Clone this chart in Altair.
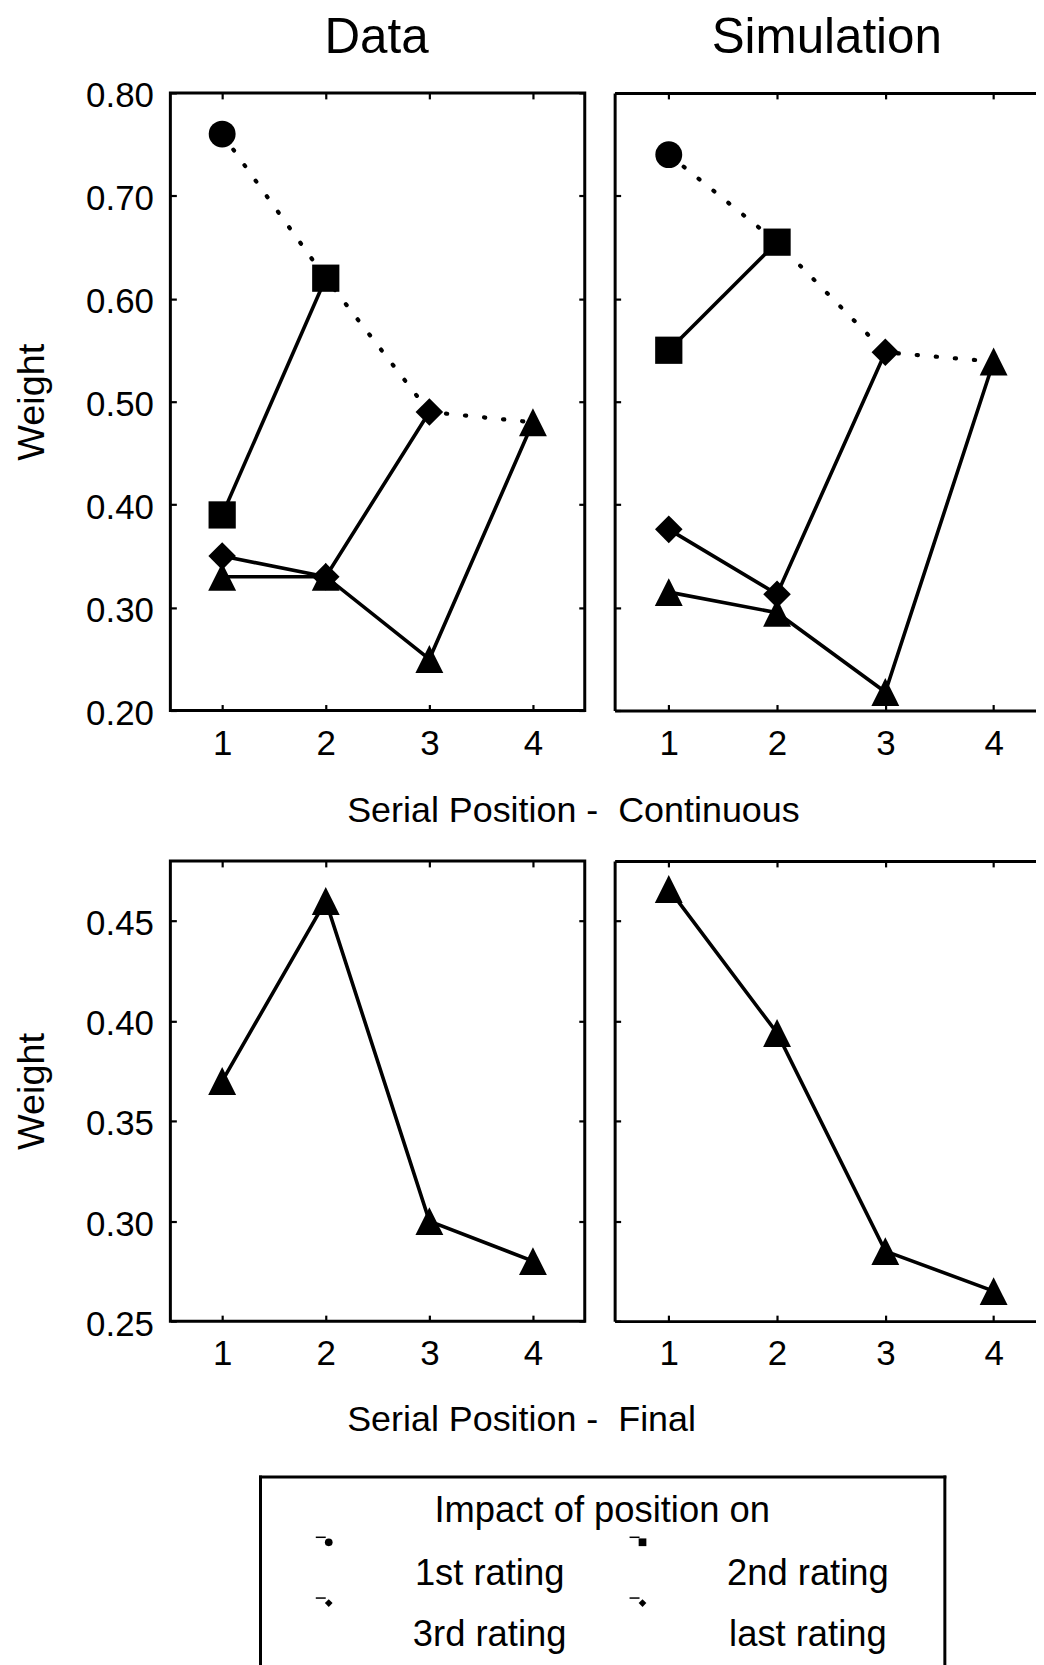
import altair as alt
import pandas as pd

FONT = "Liberation Sans"

# ---------------- data ----------------
positions = [1, 2, 3, 4]
rating_names = ["1st rating", "2nd rating", "3rd rating", "last rating"]

# Continuous rating - Data
data_cont_1st = [0.76]
data_cont_2nd = [0.39, 0.62]
data_cont_3rd = [0.35, 0.33, 0.49]
data_cont_last = [0.33, 0.33, 0.25, 0.48]

# Continuous rating - Simulation
sim_cont_1st = [0.74]
sim_cont_2nd = [0.55, 0.655]
sim_cont_3rd = [0.376, 0.313, 0.548]
sim_cont_last = [0.315, 0.295, 0.218, 0.539]

# Final rating
data_final = [0.37, 0.46, 0.30, 0.28]
sim_final = [0.466, 0.394, 0.285, 0.265]

cont_ticks = [0.20, 0.30, 0.40, 0.50, 0.60, 0.70, 0.80]
final_ticks = [0.25, 0.30, 0.35, 0.40, 0.45]

column_titles = ["Data", "Simulation"]
x_title_cont = "Serial Position -\u00a0\u00a0Continuous"
x_title_final = "Serial Position -\u00a0\u00a0Final"
y_title = "Weight"

legend_title = "Impact of position on"
legend_labels = ["1st rating", "2nd rating", "3rd rating", "last rating"]
legend_col = [0, 1, 0, 1]
legend_row = [0, 0, 1, 1]


def make_df(pairs):
    rows = []
    for name, vals in pairs:
        for i, v in enumerate(vals):
            rows.append({"pos": positions[i], "weight": v, "series": name})
    return pd.DataFrame(rows)


def make_diag(pairs):
    rows = []
    for name, vals in pairs:
        rows.append({"pos": positions[len(vals) - 1], "weight": vals[-1], "series": name})
    return pd.DataFrame(rows)


TRIANGLE = "M0,-1L1,1L-1,1Z"
SHAPE_SCALE = alt.Scale(domain=rating_names, range=["circle", "square", "diamond", TRIANGLE])
SIZE_SCALE = alt.Scale(domain=rating_names, range=[729, 784, 800, 700])

TICK = dict(ticks=True, tickSize=6, tickWidth=2.2, tickColor="black",
            domain=False, grid=False, offset=-6)
FRAME = dict(domain=True, domainWidth=3, domainColor="black", ticks=False,
             labels=False, grid=False, title=None, offset=0)


def ax_bottom(xtitle=None, title_y=116):
    kw = dict(orient="bottom", values=positions, labels=True, labelPadding=16,
              format="d", **TICK)
    if xtitle:
        kw.update(title=xtitle, titleX=177, titleY=title_y, titleAlign="left",
                  titleAnchor="start", titleBaseline="alphabetic", titleAngle=0,
                  titleLimit=1000, titleFontSize=36)
    else:
        kw.update(title=None)
    return alt.Axis(**kw)


def ax_left(values, labels):
    kw = dict(orient="left", values=values, labels=labels, labelPadding=17,
              format=".2f", labelOffset=3, **TICK)
    if labels:
        kw.update(title=y_title, titlePadding=34, titleFontSize=38)
    else:
        kw.update(title=None)
    return alt.Axis(**kw)


def panel(pairs, ydom, yvals, width, height, xmax, left, title=None, title_x=None,
          xtitle=None, title_y=116, dotted=False):
    df = make_df(pairs)
    xs = alt.Scale(domain=[0.5, xmax], nice=False, zero=False)
    ys = alt.Scale(domain=ydom, nice=False, zero=False)

    def X(axis):
        return alt.X("pos:Q", scale=xs, axis=axis)

    def Y(axis):
        return alt.Y("weight:Q", scale=ys, axis=axis)

    layers = []
    lines = alt.Chart(df).mark_line(color="black", strokeWidth=3.6).encode(
        x=X(ax_bottom(xtitle, title_y)),
        y=Y(ax_left(yvals, left)),
        detail="series:N",
    )
    layers.append(lines)
    if dotted:
        diag = make_diag(pairs)
        layers.append(
            alt.Chart(diag).mark_line(color="black", strokeWidth=4.2,
                                      strokeDash=[1.2, 18], strokeCap="round").encode(
                x=X(None), y=Y(None))
        )
    ax_top = alt.Axis(orient="top", values=positions, labels=False, title=None, **TICK)
    ax_right = alt.Axis(orient="right", values=yvals, labels=False, title=None, **TICK)
    points = alt.Chart(df).mark_point(filled=True, opacity=1, color="black").encode(
        x=X(ax_top),
        y=Y(ax_right if left else None),
        shape=alt.Shape("series:N", scale=SHAPE_SCALE, legend=None),
        size=alt.Size("series:N", scale=SIZE_SCALE, legend=None),
    )
    layers.append(points)
    if not left:
        # frame of the right-hand panels (their right edge runs off the page)
        layers.append(alt.Chart(df).mark_point(opacity=0).encode(
            x=X(alt.Axis(orient="bottom", **FRAME)),
            y=Y(alt.Axis(orient="left", **FRAME))))
        layers.append(alt.Chart(df).mark_point(opacity=0).encode(
            x=X(alt.Axis(orient="top", **FRAME)),
            y=Y(None)))
    if title:
        layers.append(
            alt.Chart(pd.DataFrame({"t": [title]})).mark_text(
                align="center", baseline="alphabetic", fontSize=49.5, font=FONT,
                color="black").encode(
                text="t:N", x=alt.value(title_x), y=alt.value(-40))
        )
    ch = alt.layer(*layers).resolve_axis(x="independent", y="independent").properties(
        width=width, height=height)
    if left:
        ch = ch.properties(view=alt.ViewBackground(stroke="black", strokeWidth=3))
    return ch


W_LEFT, W_RIGHT = 416, 423
H_TOP, H_BOT = 620, 462
XMAX_LEFT = 4.5
XMAX_RIGHT = 0.5 + W_RIGHT / 108.7

tl = panel([(rating_names[0], data_cont_1st), (rating_names[1], data_cont_2nd),
            (rating_names[2], data_cont_3rd), (rating_names[3], data_cont_last)],
           [0.2, 0.8], cont_ticks, W_LEFT, H_TOP, XMAX_LEFT, True,
           title=column_titles[0], title_x=207, xtitle=x_title_cont, title_y=117,
           dotted=True)
tr = panel([(rating_names[0], sim_cont_1st), (rating_names[1], sim_cont_2nd),
            (rating_names[2], sim_cont_3rd), (rating_names[3], sim_cont_last)],
           [0.2, 0.8], cont_ticks, W_RIGHT, H_TOP, XMAX_RIGHT, False,
           title=column_titles[1], title_x=213, dotted=True)
bl = panel([(rating_names[3], data_final)], [0.25, 0.48], final_ticks,
           W_LEFT, H_BOT, XMAX_LEFT, True, xtitle=x_title_final, title_y=116)
br = panel([(rating_names[3], sim_final)], [0.25, 0.48], final_ticks,
           W_RIGHT, H_BOT, XMAX_RIGHT, False)

# ---------------- legend ----------------
LEG_H = 200
LEG_TOP = 5          # the box's top line, inside the legend cell
ROW_STEP = 61.0
ROW0_Y = 71.0
d0 = -(ROW0_Y - LEG_TOP) / ROW_STEP
leg_df = pd.DataFrame({"label": legend_labels, "col": legend_col, "row": legend_row})
lxs = alt.Scale(domain=[-0.219, 1.962], range=[90, 777], nice=False, zero=False)
lxs_text = alt.Scale(domain=[0, 1], range=[320.5, 640], nice=False, zero=False)
lys = alt.Scale(domain=[d0, d0 + (LEG_H - LEG_TOP) / ROW_STEP], range=[LEG_TOP, LEG_H],
                nice=False, zero=False)
LFRAME = dict(domain=True, domainWidth=3, domainColor="black", domainCap="square",
              ticks=False, labels=False, grid=False, title=None)

leg_symbols = alt.Chart(leg_df).mark_point(filled=True, opacity=1, color="black", size=60).encode(
    x=alt.X("col:Q", scale=lxs, axis=alt.Axis(orient="top", offset=-LEG_TOP, **LFRAME)),
    y=alt.Y("row:Q", scale=lys, axis=alt.Axis(orient="left", offset=-90, **LFRAME)),
    shape=alt.Shape("label:N", scale=alt.Scale(domain=legend_labels,
                                               range=["circle", "square", "diamond", "diamond"]),
                    legend=None),
)
leg_dash = alt.Chart(leg_df).mark_tick(orient="horizontal", size=10, thickness=1.5,
                                       color="black", opacity=1, xOffset=-8, yOffset=-5).encode(
    x=alt.X("col:Q", scale=lxs, axis=None),
    y=alt.Y("row:Q", scale=lys, axis=None),
)
leg_text = alt.Chart(leg_df).mark_text(align="center", baseline="alphabetic", dy=43,
                                       fontSize=36.5, font=FONT, color="black").encode(
    x=alt.X("col:Q", scale=lxs_text, axis=None),
    y=alt.Y("row:Q", scale=lys, axis=alt.Axis(orient="right", offset=361, **LFRAME)),
    text="label:N",
)
leg_title = alt.Chart(pd.DataFrame({"t": [legend_title]})).mark_text(
    align="center", baseline="alphabetic", fontSize=36.5, font=FONT, color="black").encode(
    text="t:N", x=alt.value(433.5), y=alt.value(51))

legend = alt.layer(leg_symbols, leg_dash, leg_text, leg_title).resolve_scale(
    x="independent").resolve_axis(
    x="independent", y="independent").properties(width=W_LEFT, height=LEG_H)

chart = alt.concat(
    tl, tr, bl, br, legend,
    columns=2, spacing={"row": 151, "column": 30}, bounds="flush", align="each",
).resolve_scale(shape="independent", size="independent").properties(
    padding={"left": 4, "top": 0, "right": 0, "bottom": 0}, background="white"
).configure_view(stroke=None).configure_axis(
    grid=False, labelFont=FONT, titleFont=FONT, labelFontSize=35, titleFontSize=35,
    labelColor="black", titleColor="black", titleFontWeight="normal",
    labelFlush=False, labelOverlap=False,
)

chart.save("out.html", embed_options={"renderer": "svg", "actions": False})
